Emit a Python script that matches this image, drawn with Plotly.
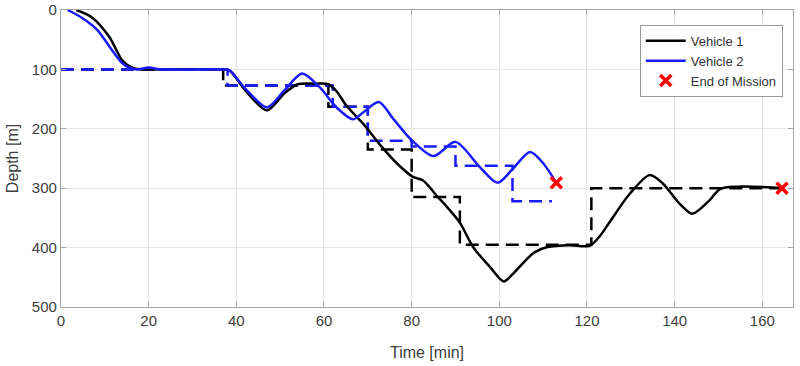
import plotly.graph_objects as go

# Vehicle 1 trajectory
v1_time = [3.5, 7, 11, 14, 16.5, 19, 25, 37, 38.5, 42, 47, 51, 54, 58, 61, 63, 65, 69, 72.8, 76.6,
           80.3, 82.6, 86, 88, 91, 94, 97.8, 101, 103, 105.4, 108, 111, 116, 120.6, 123, 125, 129.8,
           134.3, 137.3, 141, 144, 148, 150.5, 165]
v1_depth = [0, 12, 45, 85, 98, 100, 100, 100, 102, 135, 169, 140, 125, 124, 125, 138, 160, 192, 227, 258,
            281, 287, 315, 331, 358, 399, 432, 457, 445, 426, 408, 399, 396, 397, 380, 359, 309,
            278, 292, 325, 343, 320, 301, 300]

# Vehicle 2 trajectory
v2_time = [1.5, 4.3, 8.2, 11.2, 13.9, 15.5, 17.5, 20, 23, 37, 38.5, 42, 47, 51, 55, 59, 63, 66.6, 69,
           72.5, 76, 80, 85, 90, 95.5, 99.6, 103, 107, 110, 113]
v2_depth = [0, 11, 33, 63, 89, 97, 100, 97, 100, 100, 102, 132, 164, 135, 107, 130, 165, 184, 172,
            155, 185, 219, 246, 222, 264, 291, 268, 239, 258, 291]

# Reference (commanded) depths, step-wise
ref1_time = [0, 37, 61, 70, 80, 91, 121, 165]
ref1_depth = [100, 127, 163, 235, 315, 395, 300, 300]
ref2_time = [0, 38, 62, 70, 80, 90, 103, 112]
ref2_depth = [100, 127, 163, 220, 230, 262, 322, 322]

# End of mission markers
end_time = [113, 164.5]
end_depth = [291, 300]

x_ticks = [0, 20, 40, 60, 80, 100, 120, 140, 160]
y_ticks = [0, 100, 200, 300, 400, 500]

FONT = "Liberation Sans, Arial"

fig = go.Figure()
fig.add_trace(go.Scatter(x=ref1_time, y=ref1_depth, mode="lines", line_shape="hv",
                         line=dict(color="black", width=2.5, dash="13px,7px"), showlegend=False,
                         hoverinfo="skip"))
fig.add_trace(go.Scatter(x=ref2_time, y=ref2_depth, mode="lines", line_shape="hv",
                         line=dict(color="#1a1aff", width=2.5, dash="13px,7px"), showlegend=False,
                         hoverinfo="skip"))
fig.add_trace(go.Scatter(x=v1_time, y=v1_depth, mode="lines", name="Vehicle 1",
                         line=dict(color="black", width=2.5, shape="spline", smoothing=0.8)))
fig.add_trace(go.Scatter(x=v2_time, y=v2_depth, mode="lines", name="Vehicle 2",
                         line=dict(color="#1a1aff", width=2.5, shape="spline", smoothing=0.8)))
fig.add_trace(go.Scatter(x=end_time, y=end_depth, mode="markers", name="End of Mission",
                         marker=dict(symbol="x-thin", size=11, color="red",
                                     line=dict(color="red", width=3.5))))

axis_common = dict(showgrid=True, gridcolor="#e6e6e6", gridwidth=1, zeroline=False,
                   showline=True, linecolor="#a6a6a6", linewidth=1.2, mirror="ticks",
                   ticks="inside", ticklen=5, tickcolor="#a6a6a6", automargin=False,
                   ticklabeloverflow="allow",
                   tickfont=dict(family=FONT, size=15, color="#404040"))

fig.update_xaxes(range=[0, 167], tickvals=x_ticks,
                 title=dict(text="Time [min]", font=dict(family=FONT, size=16, color="#404040"),
                            standoff=18),
                 **axis_common)
fig.update_yaxes(range=[500, 0], tickvals=y_ticks,
                 title=dict(text="Depth [m]", font=dict(family=FONT, size=16, color="#404040"),
                            standoff=9),
                 **axis_common)

fig.update_layout(
    width=800, height=366,
    margin=dict(l=61, r=7, t=10, b=59),
    paper_bgcolor="white", plot_bgcolor="white",
    font=dict(family=FONT, size=13, color="#333333"),
    legend=dict(x=0.986, y=0.95, xanchor="right", yanchor="top",
                bgcolor="white", bordercolor="#999999", borderwidth=1,
                font=dict(family=FONT, size=13, color="#333333"),
                tracegroupgap=0, itemwidth=40),
)

# remove the browser's default body margin so the figure fills the window exactly
fig.write_html("out.html", config={"displayModeBar": False},
               post_script="document.body.style.margin='0';document.body.style.overflow='hidden';")
